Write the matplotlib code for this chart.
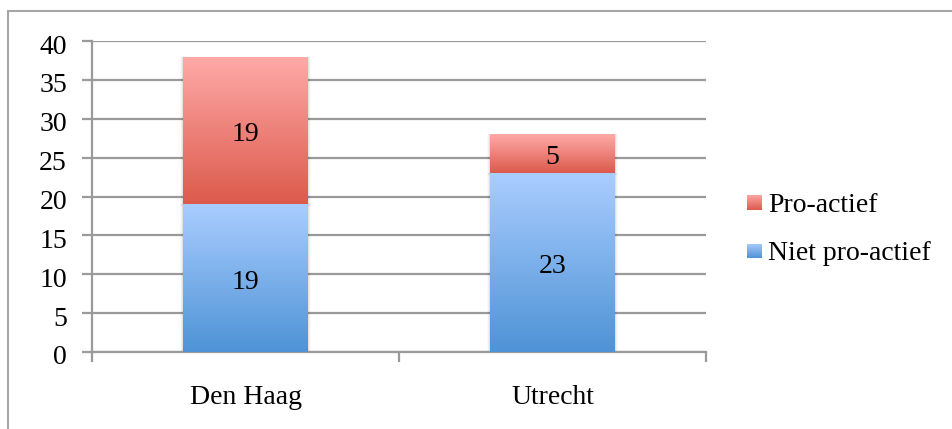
import numpy as np
import matplotlib
matplotlib.use("Agg")
import matplotlib.pyplot as plt
import matplotlib.transforms as mtrans
from matplotlib.patches import Rectangle
from matplotlib.colors import LinearSegmentedColormap

categories = ["Den Haag", "Utrecht"]
niet_pro_actief = [19, 23]
pro_actief = [19, 5]
series_names = ["Pro-actief", "Niet pro-actief"]
y_ticks = [0, 5, 10, 15, 20, 25, 30, 35, 40]

W, H = 952, 429
plt.rcParams['font.family'] = ['Liberation Serif', 'DejaVu Serif']
fig = plt.figure(figsize=(W / 100, H / 100), dpi=100)
FS = 20

# outer chart border (top and left visible)
fig.patches.append(Rectangle((8 / W, -0.1), 1.2, (H - 11) / H + 0.1, transform=fig.transFigure,
                             fill=False, edgecolor="#a6a6a6", linewidth=1.5, zorder=0))

ax = fig.add_axes([92 / W, (H - 352) / H, (706 - 92) / W, (352 - 41) / H])
ax.set_xlim(0, 2)
ax.set_ylim(0, 40)

grid_c = "#9a9a9a"
for t in y_ticks:
    ax.axhline(t, color=grid_c, linewidth=1.6, zorder=1)
for s in ["top", "right"]:
    ax.spines[s].set_visible(False)
for s in ["left", "bottom"]:
    ax.spines[s].set_color(grid_c)
    ax.spines[s].set_linewidth(1.6)

ax.set_yticks(y_ticks)
ax.set_yticklabels([str(t) for t in y_ticks], fontsize=FS)
ax.set_xticks([0, 1, 2], minor=False)
ax.set_xticklabels([])
ax.set_xticks([0.5, 1.5], minor=True)
ax.set_xticklabels(categories, minor=True, fontsize=FS)
ax.tick_params(axis="x", which="major", length=7, width=1.6, color=grid_c, direction="out")
ax.tick_params(axis="x", which="minor", length=0, pad=24)
ax.tick_params(axis="y", length=7, width=1.6, color=grid_c, pad=11)

shift = mtrans.ScaledTranslation(0, -3 / 100, fig.dpi_scale_trans)
for lbl in ax.get_yticklabels():
    lbl.set_transform(lbl.get_transform() + shift)

red_cmap = LinearSegmentedColormap.from_list("r", ["#dc5a4c", "#ffaaa8"])
blue_cmap = LinearSegmentedColormap.from_list("b", ["#4e93d6", "#aacdff"])

bw = 0.404
grad = np.linspace(0, 1, 256).reshape(-1, 1)

def grad_bar(x, bottom, height, cmap):
    x0 = x - bw / 2
    for i, a in enumerate([0.06, 0.04, 0.02]):
        d = 0.004 * (i + 1)
        ax.add_patch(Rectangle((x0 - d, bottom - 0.1 * (i + 1)), bw + 2 * d, height + 0.1 * (i + 1),
                               facecolor="black", edgecolor="none", alpha=a, zorder=2))
    im = ax.imshow(grad, cmap=cmap, origin="lower", aspect="auto",
                   extent=[x0, x0 + bw, bottom, bottom + height], zorder=3)
    rect = Rectangle((x0, bottom), bw, height, facecolor="none", edgecolor="none")
    ax.add_patch(rect)
    im.set_clip_path(rect)

xs = [0.5, 1.5]
tshift = ax.transData + mtrans.ScaledTranslation(0, -4 / 100, fig.dpi_scale_trans)
for x, nv, pv in zip(xs, niet_pro_actief, pro_actief):
    grad_bar(x, 0, nv, blue_cmap)
    grad_bar(x, nv, pv, red_cmap)
    ax.text(x, nv / 2, str(nv), ha="center", va="center", fontsize=FS, zorder=5, transform=tshift)
    ax.text(x, nv + pv / 2, str(pv), ha="center", va="center", fontsize=FS, zorder=5, transform=tshift)

ax.set_xlim(0, 2)
ax.set_ylim(0, 40)

# legend
leg_items = [(series_names[0], red_cmap, 203), (series_names[1], blue_cmap, 251)]
for name, cmap, yc in leg_items:
    lax = fig.add_axes([747 / W, (H - yc - 7.5) / H, 15 / W, 15 / H])
    lax.imshow(grad, cmap=cmap, origin="lower", aspect="auto")
    lax.axis("off")
    fig.text(768 / W, (H - yc - 3) / H, name, fontsize=FS, va="center", ha="left")

fig.savefig("out.png", dpi=100)
